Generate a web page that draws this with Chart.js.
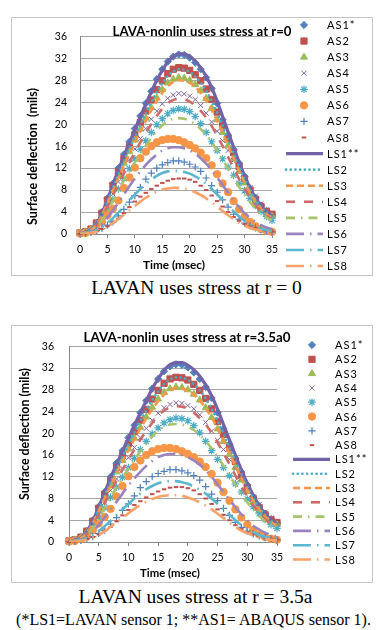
<!DOCTYPE html>
<html><head><meta charset="utf-8">
<script src="https://cdn.jsdelivr.net/npm/chart.js@4/dist/chart.umd.min.js"></script>
<style>
html,body{margin:0;padding:0;background:#fff;width:387px;height:630px;overflow:hidden;position:relative}
canvas{position:absolute;left:11px}
#c1{top:17px}
#c2{top:325px}
.cap{position:absolute;left:0;width:387px;text-align:center;font-family:"Liberation Serif","Times New Roman",serif;color:#000;white-space:nowrap;line-height:1}
#cap1{top:278px;font-size:19.5px;padding-left:6px;box-sizing:border-box}
#cap2{top:587px;font-size:19.5px;padding-left:4px;box-sizing:border-box}
#cap3{top:612px;font-size:16px;padding-left:0px}
</style></head>
<body>
<canvas id="c1" width="362" height="259"></canvas>
<canvas id="c2" width="362" height="258"></canvas>
<div class="cap" id="cap1">LAVAN uses stress at r = 0</div>
<div class="cap" id="cap2">LAVAN uses stress at r = 3.5a</div>
<div class="cap" id="cap3">(*LS1=LAVAN sensor 1; **AS1= ABAQUS sensor 1).</div>
<script>
// ---------- DATA ----------
const timeMs = [0,1,2,3,4,5,6,7,8,9,10,11,12,13,14,15,16,17,18,19,20,21,22,23,24,25,26,27,28,29,30,31,32,33,34,35];
const seriesLabels = ['AS1*','AS2','AS3','AS4','AS5','AS6','AS7','AS8','LS1**','LS2','LS3','LS4','LS5','LS6','LS7','LS8'];
const chartTitles = ['LAVA-nonlin uses stress at r=0','LAVA-nonlin uses stress at r=3.5a0'];
const xAxisTitle = 'Time (msec)';
const yAxisTitles = ['Surface deflection  (mils)','Surface deflection (mils)'];

// ABAQUS sensors (same in both panels)
const AS1 = [0.2,0.4,0.9,2.0,4.0,6.5,9.2,12.0,14.5,16.8,19.2,21.5,23.8,26.0,28.2,30.0,31.4,32.3,32.7,32.6,32.1,31.2,30.0,28.5,26.5,23.8,20.8,18.0,15.4,12.9,10.5,8.3,6.6,5.2,4.2,3.5];
const AS2 = [0.2,0.4,0.9,2.0,3.8,6.2,8.8,11.3,13.7,15.9,18.1,20.3,22.4,24.4,26.3,27.9,29.2,30.0,30.3,30.2,29.8,29.0,27.9,26.4,24.5,22.2,19.8,17.3,14.8,12.3,10.0,8.0,6.3,5.0,4.1,3.6];
const AS3 = [0.2,0.4,0.8,1.8,3.5,5.8,8.2,10.6,12.9,15.0,17.1,19.1,21.1,23.0,24.8,26.3,27.5,28.2,28.5,28.4,28.0,27.2,26.1,24.7,22.9,20.8,18.5,16.1,13.7,11.4,9.3,7.4,5.8,4.6,3.8,3.2];
const AS4 = [0.1,0.3,0.7,1.6,3.1,5.1,7.3,9.5,11.6,13.6,15.5,17.4,19.2,20.9,22.4,23.7,24.7,25.3,25.6,25.5,25.1,24.5,23.4,22.0,20.4,18.7,17.0,15.2,13.4,11.7,10.0,8.4,6.9,5.5,4.4,3.4];
const AS5 = [0.1,0.3,0.6,1.4,2.7,4.4,6.3,8.2,10.1,11.9,13.7,15.4,17.0,18.5,19.9,21.0,21.9,22.5,22.8,22.7,22.3,21.4,20.1,18.5,16.8,15.2,13.7,12.2,10.7,9.2,7.9,6.5,5.2,4.1,3.2,2.5];
const AS6 = [0.1,0.2,0.5,1.1,2.2,3.4,4.6,6.1,8.4,10.3,12.1,13.8,15.0,16.0,16.7,17.1,17.3,17.3,17.1,16.7,16.2,15.6,14.8,13.8,12.5,10.9,9.2,7.6,6.0,4.5,3.2,2.2,1.4,0.9,0.6,0.4];
const AS7 = [0.05,0.15,0.3,0.6,1.0,1.6,2.2,3.3,4.5,5.8,7.0,8.5,10.0,11.1,12.0,12.6,13.0,13.3,13.3,13.1,12.7,12.2,11.4,10.2,8.8,7.6,6.2,4.9,3.6,2.7,2.0,1.5,1.1,0.8,0.6,0.4];
const AS8 = [0.0,0.1,0.2,0.5,0.9,1.4,2.1,2.8,3.8,4.9,5.9,6.8,7.5,8.2,8.8,9.3,9.7,10.0,10.1,10.1,9.9,9.5,8.8,8.0,7.0,6.0,5.0,4.0,3.1,2.4,1.8,1.4,1.1,0.8,0.6,0.5];

// LAVAN sensors, stress at r = 0
const LS1_r0 = [0,0.3,0.8,1.9,3.8,6.3,9.0,11.7,14.2,16.6,19.0,21.4,23.7,25.9,28.0,29.8,31.3,32.3,32.8,32.8,32.3,31.5,30.3,28.7,26.7,24.2,21.4,18.6,15.8,13.1,10.6,8.4,6.6,5.1,4.0,3.2];
const LS2_r0 = [0,0.3,0.8,1.8,3.6,5.9,8.4,10.9,13.3,15.5,17.7,19.9,22.0,24.0,25.9,27.5,28.8,29.6,30.0,29.9,29.5,28.7,27.6,26.1,24.3,22.1,19.7,17.2,14.7,12.3,10.0,8.0,6.3,4.9,3.9,3.1];
const LS3_r0 = [0,0.3,0.7,1.7,3.4,5.6,7.9,10.2,12.5,14.6,16.7,18.7,20.6,22.5,24.2,25.7,26.9,27.7,28.0,27.9,27.5,26.8,25.7,24.3,22.6,20.6,18.4,16.1,13.8,11.5,9.4,7.5,5.9,4.6,3.6,2.9];
const LS4_r0 = [0,0.2,0.6,1.5,3.0,4.9,7.0,9.1,11.1,13.0,14.9,16.7,18.4,20.0,21.5,22.8,23.8,24.4,24.6,24.5,24.1,23.4,22.4,21.2,19.7,17.9,16.0,14.0,12.0,10.0,8.2,6.6,5.2,4.1,3.3,2.7];
const LS5_r0 = [0,0.2,0.5,1.3,2.6,4.2,6.0,7.9,9.7,11.4,13.0,14.6,16.1,17.5,18.8,19.8,20.6,21.0,21.1,21.0,20.6,20.0,19.1,18.0,16.7,15.2,13.6,11.9,10.2,8.6,7.1,5.8,4.6,3.7,3.0,2.5];
const LS6_r0 = [0,0.1,0.4,0.9,1.8,3.0,4.3,5.7,7.2,8.7,10.1,11.4,12.6,13.6,14.5,15.2,15.6,15.8,15.8,15.6,15.2,14.6,13.8,12.8,11.6,10.3,8.9,7.5,6.1,4.9,3.8,2.9,2.2,1.6,1.2,0.9];
const LS7_r0 = [0,0.1,0.3,0.6,1.2,2.0,2.9,3.9,5.0,6.1,7.2,8.2,9.1,9.9,10.6,11.1,11.4,11.5,11.5,11.3,11.0,10.5,9.9,9.1,8.2,7.2,6.2,5.1,4.1,3.2,2.4,1.8,1.3,0.9,0.7,0.5];
const LS8_r0 = [0,0.1,0.2,0.4,0.8,1.3,2.0,2.7,3.5,4.3,5.1,5.9,6.6,7.2,7.7,8.1,8.3,8.4,8.4,8.3,8.0,7.6,7.1,6.5,5.8,5.0,4.2,3.4,2.7,2.0,1.5,1.1,0.8,0.6,0.4,0.3];

// LAVAN sensors, stress at r = 3.5a
const LS1_r35 = [0,0.3,0.8,1.9,3.9,6.4,9.1,11.8,14.3,16.7,19.1,21.5,23.8,26.0,28.2,30.0,31.6,32.6,33.0,33.0,32.5,31.7,30.5,28.9,26.9,24.4,21.6,18.8,16.0,13.3,10.8,8.6,6.7,5.2,4.1,3.3];
const LS2_r35 = [0,0.3,0.8,1.8,3.6,6.0,8.5,11.0,13.4,15.7,17.9,20.1,22.2,24.2,26.1,27.7,29.1,29.9,30.3,30.2,29.8,29.0,27.9,26.4,24.5,22.3,19.9,17.4,14.9,12.5,10.2,8.1,6.4,5.0,3.9,3.2];
const LS3_r35 = [0,0.3,0.7,1.7,3.4,5.7,8.0,10.4,12.7,14.8,16.9,18.9,20.9,22.7,24.4,25.9,27.1,27.9,28.3,28.2,27.8,27.1,26.0,24.6,22.9,20.9,18.6,16.3,14.0,11.7,9.6,7.6,6.0,4.7,3.7,3.0];
const LS4_r35 = [0,0.2,0.6,1.5,3.0,5.0,7.1,9.3,11.3,13.3,15.2,17.0,18.8,20.4,21.9,23.2,24.2,24.8,25.0,24.9,24.5,23.8,22.8,21.6,20.1,18.3,16.3,14.3,12.2,10.2,8.4,6.7,5.3,4.2,3.3,2.7];
const LS5_r35 = [0,0.2,0.5,1.3,2.7,4.4,6.3,8.2,10.0,11.8,13.5,15.1,16.7,18.1,19.4,20.5,21.2,21.6,21.7,21.6,21.2,20.6,19.7,18.6,17.2,15.7,14.0,12.3,10.5,8.9,7.3,6.0,4.8,3.8,3.1,2.6];
const LS6_r35 = [0,0.1,0.4,0.9,1.9,3.1,4.5,5.9,7.4,8.9,10.4,11.7,12.9,14.0,14.9,15.6,16.0,16.2,16.2,16.0,15.6,15.0,14.2,13.2,12.0,10.6,9.2,7.8,6.4,5.1,4.0,3.0,2.3,1.7,1.3,1.0];
const LS7_r35 = [0,0.1,0.3,0.6,1.2,2.0,2.9,3.9,4.9,6.0,7.0,8.0,8.9,9.7,10.3,10.8,11.1,11.2,11.2,11.0,10.7,10.2,9.6,8.9,8.0,7.0,6.0,5.0,4.0,3.1,2.4,1.8,1.3,0.9,0.7,0.5];
const LS8_r35 = [0,0.1,0.2,0.4,0.8,1.3,2.0,2.8,3.6,4.4,5.3,6.1,6.8,7.4,7.9,8.3,8.5,8.6,8.6,8.5,8.2,7.8,7.3,6.7,6.0,5.2,4.4,3.6,2.8,2.1,1.6,1.2,0.9,0.6,0.4,0.3];

// ---------- STYLES ----------
const FONT = 'Lato, "Open Sans", sans-serif';
const asStyles = [
  {c:'#4F81BD', ps:'rectRot', r:3.6, bw:1},
  {c:'#C0504D', ps:'rect', r:4.4, bw:1},
  {c:'#9BBB59', ps:'triangle', r:4.0, bw:1},
  {c:'#8064A2', ps:'crossRot', r:3.6, bw:1},
  {c:'#4BACC6', ps:'star', r:3.8, bw:1.2},
  {c:'#F79646', ps:'circle', r:3.7, bw:1},
  {c:'#4F81BD', ps:'cross', r:3.6, bw:1.2},
  {c:'#C0504D', ps:'line', r:2.2, bw:2}
];
const lsStyles = [
  {c:'#7263A8', w:3.2, dash:[], cap:'butt'},
  {c:'#4BACC6', w:2.6, dash:[0.1,4.6], cap:'round'},
  {c:'#F79646', w:2.6, dash:[7,4], cap:'butt'},
  {c:'#CD6B69', w:2.6, dash:[9,9], cap:'butt'},
  {c:'#A7C46C', w:2.6, dash:[9,6,1.5,6], cap:'butt'},
  {c:'#9B84BD', w:2.6, dash:[18,6,1.5,6], cap:'butt'},
  {c:'#5CB6CE', w:2.6, dash:[18,6,1.5,6], cap:'butt'},
  {c:'#F8A36A', w:2.6, dash:[18,6,1.5,6], cap:'butt'}
];

function pts(arr){ return timeMs.map((t,i)=>({x:t, y:arr[i]})); }

function buildDatasets(lsArrays){
  const asArrays = [AS1,AS2,AS3,AS4,AS5,AS6,AS7,AS8];
  const ds = [];
  asArrays.forEach((a,i)=>{
    const s = asStyles[i];
    ds.push({label:seriesLabels[i], data:pts(a), showLine:false, pointStyle:s.ps, pointRadius:s.r,
      pointBorderWidth:s.bw, backgroundColor:s.c, borderColor:s.c, pointBackgroundColor:s.c, pointBorderColor:s.c,
      order:-i, clip:false, kind:'as', sty:s});
  });
  lsArrays.forEach((a,i)=>{
    const s = lsStyles[i];
    ds.push({label:seriesLabels[8+i], data:pts(a), showLine:true, pointRadius:0, borderColor:s.c, backgroundColor:s.c,
      borderWidth:s.w, borderDash:s.dash, borderCapStyle:s.cap, cubicInterpolationMode:'monotone',
      order:-(8+i), kind:'ls', sty:s});
  });
  return ds;
}

function fitSize(ctx, text, weight, target, base){
  ctx.font = weight+' '+base+'px '+FONT;
  const w = ctx.measureText(text).width;
  return base*target/w;
}

const decor = {
  id:'decor',
  beforeDraw(chart){
    const ctx = chart.ctx;
    ctx.save(); ctx.fillStyle='#fff'; ctx.fillRect(0,0,chart.width,chart.height); ctx.restore();
  },
  afterDraw(chart, args, o){
    const ctx = chart.ctx;
    ctx.save();
    ctx.strokeStyle='#c4c4c4'; ctx.lineWidth=1; ctx.setLineDash([]);
    ctx.strokeRect(0.5,0.5,chart.width-1,chart.height-1);
    ctx.fillStyle='#000'; ctx.textAlign='center'; ctx.textBaseline='middle';
    // title
    let fs = fitSize(ctx, o.title, 'bold', o.titleW, 12);
    ctx.font = 'bold '+fs.toFixed(2)+'px '+FONT;
    ctx.fillText(o.title, o.titleX, o.titleY);
    // x title
    fs = fitSize(ctx, xAxisTitle, 'bold', o.xTitleW, 11);
    ctx.font = 'bold '+fs.toFixed(2)+'px '+FONT;
    ctx.fillText(xAxisTitle, o.xTitleX, o.xTitleY);
    // y title
    fs = fitSize(ctx, o.yTitle, 'bold', o.yTitleW, 11);
    ctx.font = 'bold '+fs.toFixed(2)+'px '+FONT;
    ctx.save(); ctx.translate(o.yTitleX, o.yTitleY); ctx.rotate(-Math.PI/2);
    ctx.fillText(o.yTitle, 0, 0); ctx.restore();
    // legend
    ctx.textAlign='left';
    ctx.font = '11px '+FONT;
    try { ctx.letterSpacing = '1px'; } catch(e){}
    chart.data.datasets.forEach((d,i)=>{
      const y = o.legY + i*o.legStep;
      const s = d.sty;
      ctx.save();
      if (d.kind==='as'){
        ctx.fillStyle=s.c; ctx.strokeStyle=s.c; ctx.lineWidth=s.bw; ctx.setLineDash([]);
        Chart.helpers.drawPoint(ctx, {pointStyle:s.ps, radius:s.r, rotation:0, borderWidth:s.bw}, o.legMarkX, y);
      } else {
        ctx.strokeStyle=s.c; ctx.lineWidth=s.w; ctx.lineCap=s.cap; ctx.setLineDash(s.dash);
        ctx.beginPath(); ctx.moveTo(o.legLineX0, y); ctx.lineTo(o.legLineX1, y); ctx.stroke();
      }
      ctx.restore();
      ctx.fillStyle='#000';
      ctx.fillText(d.label, o.legTextX, y+0.5);
    });
    try { ctx.letterSpacing = '0px'; } catch(e){}
    ctx.restore();
  }
};

function makeChart(id, lsArrays, geom){
  return new Chart(document.getElementById(id), {
    type:'scatter',
    data:{datasets:buildDatasets(lsArrays)},
    options:{
      responsive:false, animation:false, devicePixelRatio:1,
      layout:{padding:{left:0, top:geom.top, right:geom.right, bottom:0}},
      plugins:{legend:{display:false}, tooltip:{enabled:false}, decor:geom.decor},
      scales:{
        x:{type:'linear', min:0, max:35,
          ticks:{stepSize:5, color:'#000', font:{family:FONT, size:10.5}, padding:geom.xPad, maxRotation:0},
          grid:{drawOnChartArea:false, drawTicks:true, tickLength:4, color:'#868686'},
          border:{color:'#868686', width:1},
          afterFit(s){ s.height = geom.xH; }
        },
        y:{type:'linear', min:0, max:36,
          ticks:{stepSize:4, color:'#000', font:{family:FONT, size:10.5}, padding:geom.yPad},
          grid:{color:'#a6a6a6', drawTicks:false},
          border:{color:'#868686', width:1},
          afterFit(s){ s.width = geom.yW; }
        }
      }
    },
    plugins:[decor]
  });
}

makeChart('c1', [LS1_r0,LS2_r0,LS3_r0,LS4_r0,LS5_r0,LS6_r0,LS7_r0,LS8_r0], {
  top:9, right:101, xH:42, yW:69, xPad:5, yPad:13,
  decor:{title:chartTitles[0], titleX:191, titleY:15, titleW:179,
    xTitleX:163, xTitleY:248, xTitleW:62,
    yTitle:yAxisTitles[0], yTitleX:22, yTitleY:139.5, yTitleW:137,
    legY:8, legStep:16.07, legMarkX:293, legLineX0:275, legLineX1:312, legTextX:316}
});
makeChart('c2', [LS1_r35,LS2_r35,LS3_r35,LS4_r35,LS5_r35,LS6_r35,LS7_r35,LS8_r35], {
  top:12, right:96, xH:41, yW:58, xPad:5, yPad:15,
  decor:{title:chartTitles[1], titleX:176, titleY:13, titleW:207,
    xTitleX:159, xTitleY:248, xTitleW:60,
    yTitle:yAxisTitles[1], yTitleX:14, yTitleY:109, yTitleW:132,
    legY:20, legStep:14.3, legMarkX:301, legLineX0:282, legLineX1:319, legTextX:324}
});
</script>
</body></html>
